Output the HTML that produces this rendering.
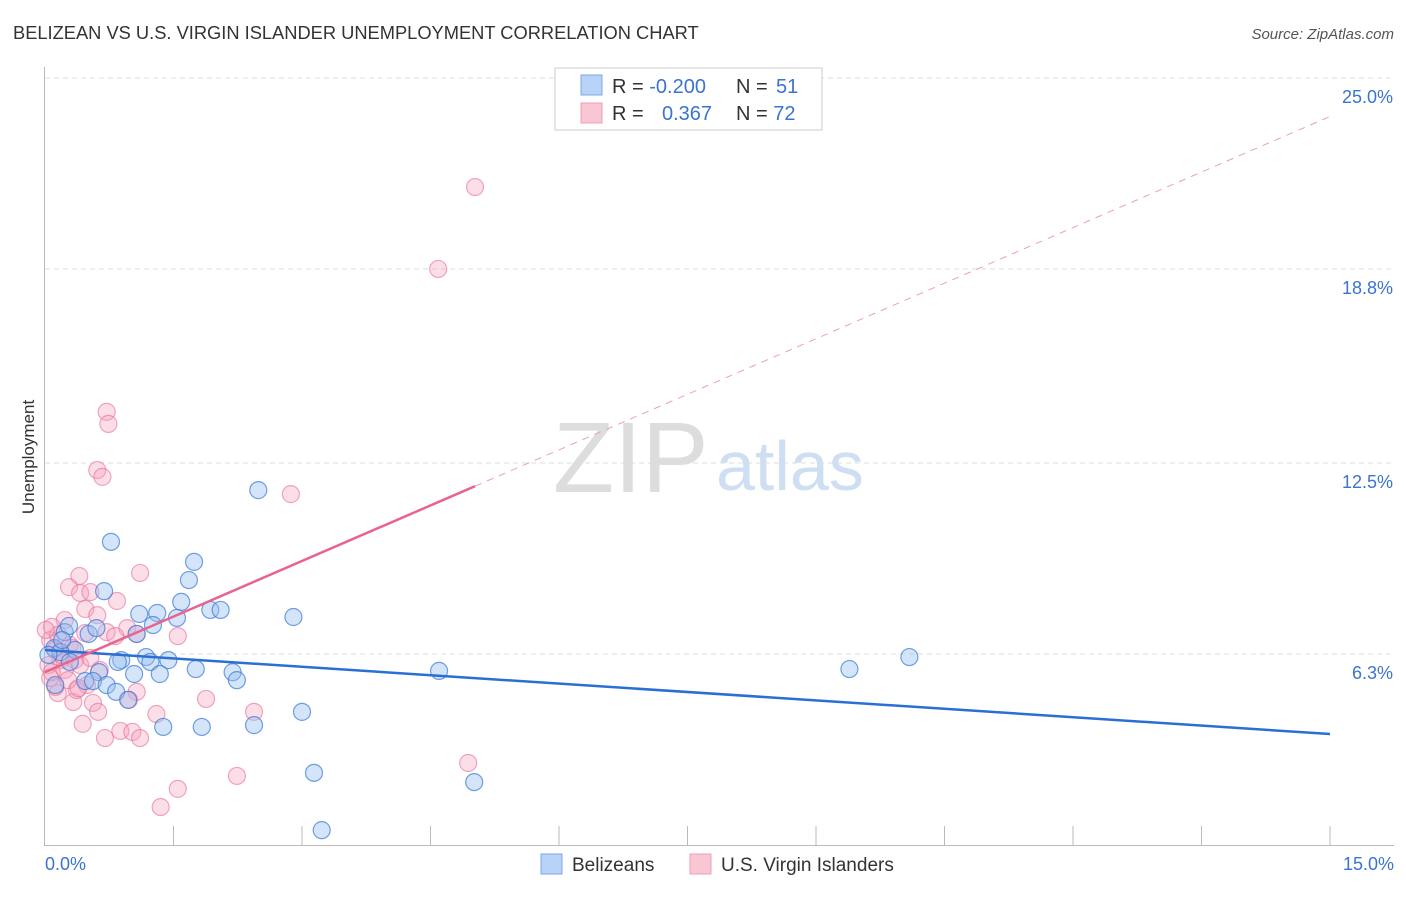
<!DOCTYPE html>
<html><head><meta charset="utf-8"><style>
body{margin:0;background:#fff;font-family:"Liberation Sans",sans-serif;}
svg text{font-family:"Liberation Sans",sans-serif;}
</style></head><body>
<svg id="c" width="1406" height="892">
<text x="13" y="39" font-size="18.3" fill="#333">BELIZEAN VS U.S. VIRGIN ISLANDER UNEMPLOYMENT CORRELATION CHART</text>
<text x="1394" y="39" font-size="15" fill="#555" font-style="italic" text-anchor="end">Source: ZipAtlas.com</text>
<text x="34" y="457" font-size="17" fill="#333" transform="rotate(-90 34 457)" text-anchor="middle">Unemployment</text>
<text x="553" y="492" font-size="100" fill="#ddd" font-family="Liberation Serif">ZIP</text>
<text x="716" y="490" font-size="70" fill="#cfdff3">atlas</text>
<g id="grid"></g><g id="pts"></g><g id="lines"></g>
<g>
<rect x="555" y="68" width="267" height="62" fill="#fff" stroke="#ccc"/>
<rect x="581" y="75" width="21" height="20" fill="#b8d3f5" stroke="#7aa8e6"/>
<rect x="581" y="103" width="21" height="20" fill="#f9c6d4" stroke="#ef9db6"/>
<text x="612" y="93" font-size="20" fill="#333">R = <tspan fill="#3a74d0">-0.200</tspan><tspan x="736">N = </tspan><tspan fill="#3a74d0" x="776">51</tspan></text>
<text x="612" y="120" font-size="20" fill="#333">R = <tspan fill="#3a74d0" x="662">0.367</tspan><tspan x="736">N = </tspan><tspan fill="#3a74d0">72</tspan></text>
</g>
<g>
<rect x="541" y="854" width="21" height="20" fill="#b8d3f5" stroke="#7aa8e6"/>
<text x="572" y="871" font-size="19" fill="#333">Belizeans</text>
<rect x="690" y="854" width="21" height="20" fill="#f9c6d4" stroke="#ef9db6"/>
<text x="721" y="871" font-size="19" fill="#333">U.S. Virgin Islanders</text>
</g>
</svg>
<script>
const yTicks=[25.0,18.8,12.5,6.3];
const yTickLabels=["25.0%","18.8%","12.5%","6.3%"];
const xTickLabels=["0.0%","15.0%"];
const blueX=[2.49,0.77,1.74,1.68,0.69,1.59,1.10,1.31,1.93,2.05,2.90,1.54,1.26,1.07,0.51,0.23,0.28,0.60,0.11,0.35,0.18,0.04,0.29,0.89,1.18,1.44,1.23,0.85,1.76,2.19,2.24,1.34,1.04,0.63,0.47,0.56,0.72,0.83,0.97,3.00,1.38,1.83,2.44,3.14,5.01,3.23,4.60,9.39,10.09,0.12,0.20];
const blueY=[11.62,9.94,9.29,8.70,8.34,7.99,7.60,7.63,7.73,7.73,7.50,7.47,7.24,6.95,6.95,7.01,7.21,7.14,6.49,6.43,6.36,6.27,6.04,6.10,6.20,6.10,6.04,6.04,5.81,5.71,5.45,5.65,5.65,5.71,5.42,5.42,5.29,5.07,4.81,4.42,3.93,3.93,3.99,2.44,2.14,0.58,5.75,5.81,6.20,5.29,6.75];
const pinkX=[5.02,4.59,0.72,0.74,0.61,0.67,2.87,1.11,0.40,0.28,0.41,0.53,0.84,0.47,0.61,0.23,1.55,0.72,0.96,0.82,1.07,0.08,1.88,2.44,1.30,0.44,0.70,0.88,1.02,1.11,2.24,1.55,1.35,4.94,1.07,0.98,0.56,0.62,0.33,0.15,0.49,0.37,0.12,0.06,0.12,0.18,0.04,0.23,0.29,0.08,0.20,0.35,0.15,0.01,0.06,0.27,0.41,0.53,0.64,0.39,0.47,0.32];
const pinkY=[21.46,18.80,14.16,13.77,12.27,12.05,11.49,8.93,8.83,8.47,8.28,8.31,8.02,7.76,7.56,7.40,6.88,7.01,7.14,6.88,6.95,7.18,4.84,4.42,4.35,4.03,3.57,3.80,3.77,3.57,2.34,1.92,1.33,2.76,5.07,4.81,4.71,4.42,4.74,5.03,5.29,5.13,5.23,6.75,6.43,6.10,5.94,5.78,6.59,5.71,6.27,6.10,6.92,7.08,5.52,5.45,5.94,6.17,5.78,5.19,6.98,6.49];
const blueTrend=[6.43,3.70];
const pinkTrend=[5.71,23.75];
const pinkSolidEnd=5.02;
const NS='http://www.w3.org/2000/svg';
const sx=v=>45+v/15*1285, sy=v=>848-v/25*770;
function mk(t,a,p){const e=document.createElementNS(NS,t);for(const k in a)e.setAttribute(k,a[k]);p.appendChild(e);return e;}
const grid=document.getElementById('grid');
yTicks.forEach((t,i)=>{
 const l=mk('line',{x1:45,x2:1394,y1:sy(t),y2:sy(t),stroke:'#ddd','stroke-dasharray':'5,4'},grid);
 
 
 const tx=mk('text',{x:1393,y:sy(t)+25,'font-size':18,fill:'#3a74d0','text-anchor':'end'},grid);
 tx.textContent=yTickLabels[i];
 
 
});
const ax=mk('line',{x1:44.5,x2:44.5,y1:67,y2:846,stroke:'#bbb'},grid);


const bx=mk('line',{x1:45,x2:1394,y1:845.5,y2:845.5,stroke:'#bbb'},grid);


for(let i=1;i<=10;i++){const t=mk('line',{x1:sx(i*1.5),x2:sx(i*1.5),y1:826,y2:846,stroke:'#bbb'},grid);
 
 }
[[0,'start',45],[15,'end',1394]].forEach((d,i)=>{const t=mk('text',{x:d[2],y:870,'font-size':18,fill:'#3a74d0','text-anchor':d[1]},grid);t.textContent=xTickLabels[i];
 
 });
const pts=document.getElementById('pts');
pinkX.forEach((x,i)=>{const c=mk('circle',{cx:sx(x),cy:sy(pinkY[i]),r:8.5,fill:'rgba(245,160,188,0.35)',stroke:'rgba(232,110,150,0.6)','stroke-width':1.2},pts);
 
 });
blueX.forEach((x,i)=>{const c=mk('circle',{cx:sx(x),cy:sy(blueY[i]),r:8.5,fill:'rgba(150,190,240,0.4)',stroke:'rgba(55,120,215,0.7)','stroke-width':1.2},pts);
 
 });
const L=document.getElementById('lines');
const pAt=x=>pinkTrend[0]+(pinkTrend[1]-pinkTrend[0])*x/15;
const b=mk('line',{x1:sx(0),y1:sy(blueTrend[0]),x2:sx(15),y2:sy(blueTrend[1]),stroke:'#2a6fd6','stroke-width':2.5},L);


const p1=mk('line',{x1:sx(0),y1:sy(pAt(0)),x2:sx(pinkSolidEnd),y2:sy(pAt(pinkSolidEnd)),stroke:'#e8648f','stroke-width':2.5},L);


const p2=mk('line',{x1:sx(pinkSolidEnd),y1:sy(pAt(pinkSolidEnd)),x2:sx(15),y2:sy(pAt(15)),stroke:'#eaa0b8','stroke-width':1,'stroke-dasharray':'7,6'},L);


</script>
</body></html>
